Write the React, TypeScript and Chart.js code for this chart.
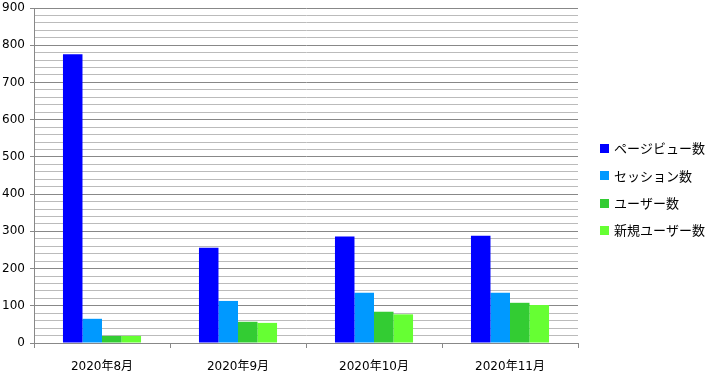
import React, { useEffect, useRef } from "react";
import { Chart, registerables } from "chart.js";

Chart.register(...registerables);

const categories = ["2020年8月", "2020年9月", "2020年10月", "2020年11月"];
const seriesNames = ["ページビュー数", "セッション数", "ユーザー数", "新規ユーザー数"];
const pageViews = [776, 256, 286, 288];
const sessions = [65, 113, 135, 135];
const users = [19, 57, 84, 108];
const newUsers = [19, 54, 77, 102];
const seriesColors = ["#0000FF", "#0099FF", "#33CC33", "#66FF33"];
const yMin = 0;
const yMax = 900;
const yMinorStep = 20;
const yMajorStep = 100;

const FONT_FAMILY = '"DejaVu Sans", "Noto Sans CJK JP", sans-serif';

const sideLegend = {
  id: "sideLegend",
  afterDraw(chart: any) {
    const { ctx, chartArea } = chart;
    const datasets = chart.data.datasets;
    const rowGap = 27.3;
    const centerY = chart.height / 2;
    const n = datasets.length;
    ctx.save();
    ctx.font = '13px "Noto Sans CJK JP", "DejaVu Sans", sans-serif';
    ctx.textBaseline = "middle";
    ctx.textAlign = "left";
    datasets.forEach((ds: any, i: number) => {
      const cy = centerY + (i - (n - 1) / 2) * rowGap;
      const bx = chartArea.right + 22;
      ctx.fillStyle = ds.backgroundColor;
      ctx.fillRect(bx, Math.round(cy - 4.5), 9, 9);
      ctx.fillStyle = "#000";
      ctx.fillText(ds.label, bx + 14, cy);
    });
    ctx.restore();
  },
};

export default function App() {
  const ref = useRef<HTMLCanvasElement | null>(null);
  useEffect(() => {
    if (!ref.current) return;
    const values = [pageViews, sessions, users, newUsers];
    const chart = new Chart(ref.current, {
      type: "bar",
      data: {
        labels: categories,
        datasets: seriesNames.map((name, i) => ({
          label: name,
          data: values[i],
          backgroundColor: seriesColors[i],
          borderWidth: 0,
          categoryPercentage: 0.574,
          barPercentage: 1,
        })),
      },
      options: {
        animation: false,
        responsive: false,
        maintainAspectRatio: false,
        layout: { padding: { top: 8, right: 135, left: 0, bottom: 0 } },
        plugins: {
          legend: { display: false },
          tooltip: { enabled: false },
        },
        scales: {
          x: {
            offset: true,
            grid: {
              offset: true,
              drawOnChartArea: false,
              drawTicks: true,
              tickLength: 5,
              color: "#888",
            },
            border: { color: "#888" },
            ticks: {
              color: "#000",
              padding: 12,
              font: { family: FONT_FAMILY, size: 12 },
              maxRotation: 0,
            },
            afterFit(scale: any) {
              scale.height = 36;
              scale.paddingLeft = 0;
              scale.paddingRight = 0;
            },
          },
          y: {
            min: yMin,
            max: yMax,
            grid: {
              color: (c: any) => (c.tick && c.tick.value % yMajorStep === 0 ? "#888" : "#bbb"),
              tickColor: (c: any) => (c.tick && c.tick.value % yMajorStep === 0 ? "#888" : "rgba(0,0,0,0)"),
              tickLength: 4,
            },
            border: { color: "#888" },
            ticks: {
              stepSize: yMinorStep,
              autoSkip: false,
              color: "#000",
              padding: 5,
              font: { family: FONT_FAMILY, size: 12 },
              callback: (v: any) => (Number(v) % yMajorStep === 0 ? String(v) : ""),
            },
            afterFit(scale: any) {
              scale.width = 34;
              scale.paddingTop = 0;
              scale.paddingBottom = 0;
            },
          },
        },
      },
      plugins: [sideLegend],
    });
    return () => chart.destroy();
  }, []);
  return (
    <div style={{ position: "absolute", left: 0, top: 0, width: 713, height: 379, background: "#fff" }}>
      <canvas ref={ref} width={713} height={379} style={{ width: 713, height: 379, display: "block" }} />
    </div>
  );
}
